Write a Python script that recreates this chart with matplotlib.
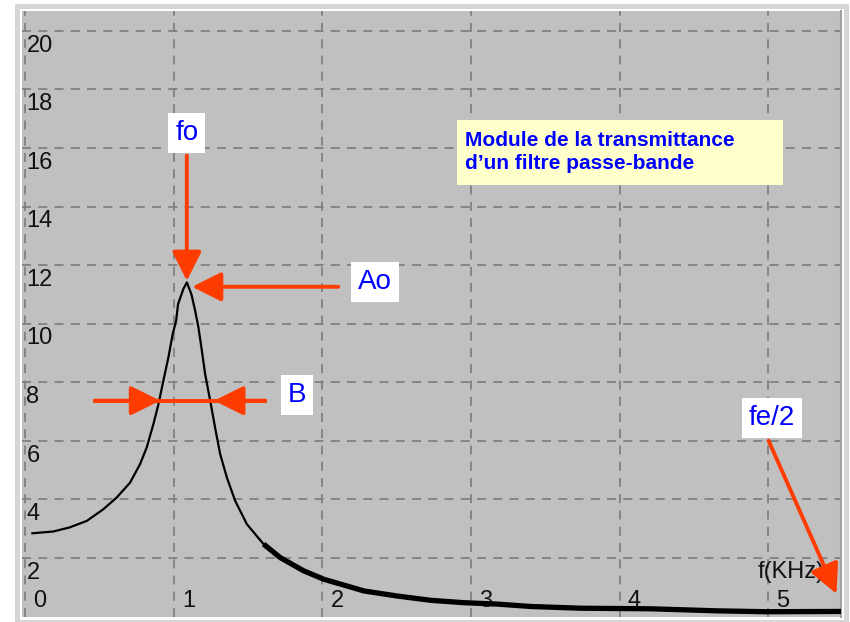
import numpy as np
import matplotlib.pyplot as plt
from matplotlib.patches import Rectangle

# Module de la transmittance d'un filtre passe-bande (fe = 11 kHz)
freq_khz = [0.05, 0.19, 0.30, 0.415, 0.527, 0.617, 0.707, 0.774, 0.819, 0.864,
            0.898, 0.931, 0.965, 0.994, 1.017, 1.03, 1.066, 1.089, 1.12, 1.145,
            1.167, 1.19, 1.212, 1.246, 1.279, 1.313, 1.358, 1.414, 1.493, 1.605,
            1.717, 1.874, 2.01, 2.166, 2.28, 2.50, 2.73, 2.95, 3.18, 3.40,
            3.74, 4.21, 4.66, 4.99, 5.49]
gain = [2.84, 2.90, 3.04, 3.26, 3.66, 4.06, 4.57, 5.20, 5.77, 6.57,
        7.25, 8.05, 8.85, 9.65, 10.1, 10.67, 11.19, 11.41, 11.0, 10.44,
        9.87, 9.08, 8.28, 7.37, 6.45, 5.55, 4.75, 3.95, 3.15, 2.47,
        2.01, 1.56, 1.27, 1.04, 0.87, 0.70, 0.55, 0.47, 0.42, 0.34,
        0.28, 0.26, 0.19, 0.16, 0.17]

x_ticks = [0, 1, 2, 3, 4, 5]
y_ticks = [2, 4, 6, 8, 10, 12, 14, 16, 18, 20]

# bandwidth markers (level and the two crossings)
b_level = 7.37
b_left, b_right = 0.909, 1.273
fe_half = 5.49

freq_khz = np.array(freq_khz)
gain = np.array(gain)
i_peak = np.argmax(gain)
fo, Ao = freq_khz[i_peak], gain[i_peak]

RED = '#ff3c00'
BLUE = '#0000ff'
plt.rcParams['font.family'] = ['Liberation Sans', 'DejaVu Sans']

W, H = 850, 622
fig = plt.figure(figsize=(W / 100, H / 100), dpi=100)
fig.patch.set_facecolor('white')


def px_box(x0, y0, x1, y1):
    # pixel box (top-left origin) -> figure fraction rect
    return [x0 / W, 1 - y1 / H, (x1 - x0) / W, (y1 - y0) / H]


def frame_rect(x0, y0, x1, y1, color):
    r = px_box(x0, y0, x1, y1)
    fig.add_artist(Rectangle(r[:2], r[2], r[3], transform=fig.transFigure,
                             facecolor=color, edgecolor='none', zorder=-5))


# window frame around the plot
frame_rect(15, 4, 849, 622, '#d6d6d6')
frame_rect(20, 9, 844, 620, 'white')

ax = fig.add_axes(px_box(22, 11, 841, 617))
ax.set_facecolor('#c0c0c0')
for s in ax.spines.values():
    s.set_visible(False)
ax.spines['right'].set_visible(True)
ax.spines['right'].set_color('#a0a0a0')
ax.spines['right'].set_linewidth(1.5)

ax.set_xlim(-0.02, 5.49)
ax.set_ylim(-0.02, 20.68)
ax.set_xticks([])
ax.set_yticks([])

# dashed grid
for xv in x_ticks:
    ax.axvline(xv, color='#808080', lw=1.3, ls=(0, (5, 4)), zorder=1)
for yv in y_ticks:
    ax.axhline(yv, color='#808080', lw=1.3, ls=(0, (5, 4)), zorder=1)

# tick labels drawn inside the plot area
for yv in y_ticks:
    ax.text(0.01, yv - 0.13, str(yv), ha='left', va='top', fontsize=17,
            color='#111111', zorder=2)
for xv in x_ticks:
    ax.text(xv + 0.055, 0.32, str(xv), ha='left', va='baseline', fontsize=17,
            color='#111111', zorder=2)
ax.text(4.93, 1.32, 'f(KHz)', ha='left', va='baseline', fontsize=17,
        color='#111111', zorder=2)

# response curve, the tail is drawn heavier
ax.plot(freq_khz, gain, color='black', lw=1.6, zorder=3)
tail = freq_khz >= 1.6
ax.plot(freq_khz[tail], gain[tail], color='black', lw=3.8,
        solid_capstyle='butt', zorder=3)

arrow = dict(arrowstyle='-|>,head_length=18,head_width=9', mutation_scale=1,
             color=RED, lw=2.8, shrinkA=0, shrinkB=0)
box = dict(boxstyle='square,pad=0.25', facecolor='white', edgecolor='none')

# fo
ax.annotate('', xy=(fo, Ao + 0.05), xytext=(fo, 15.74), arrowprops=arrow, zorder=4)
ax.text(fo, 16.5, 'fo', ha='center', va='center', fontsize=20, color=BLUE,
        bbox=box, zorder=5)

# Ao
ax.annotate('', xy=(fo + 0.035, Ao - 0.15), xytext=(2.108, Ao - 0.15),
            arrowprops=arrow, zorder=4)
ax.text(2.357, Ao, 'Ao', ha='center', va='center', fontsize=20, color=BLUE,
        bbox=box, zorder=5)

# B
ax.plot([0.471, 1.616], [b_level, b_level], color=RED, lw=2.8, zorder=4)
ax.annotate('', xy=(b_left, b_level), xytext=(0.471, b_level), arrowprops=arrow, zorder=4)
ax.annotate('', xy=(b_right, b_level), xytext=(1.616, b_level), arrowprops=arrow, zorder=4)
ax.text(1.832, 7.57, 'B', ha='center', va='center', fontsize=20, color=BLUE,
        bbox=box, zorder=5)

# fe/2
ax.annotate('', xy=(fe_half - 0.03, 0.77), xytext=(5.003, 6.0), arrowprops=arrow, zorder=4)
ax.text(5.024, 6.79, 'fe/2', ha='center', va='center', fontsize=20, color=BLUE,
        bbox=box, zorder=5)

# caption box
ax.add_patch(Rectangle((2.909, 14.72), 5.098 - 2.909, 16.97 - 14.72,
                       facecolor='#ffffcc', edgecolor='none', zorder=4))
ax.text(2.963, 15.86, 'Module de la transmittance\nd\u2019un filtre passe-bande',
        ha='left', va='center', fontsize=15, fontweight='bold', color=BLUE,
        linespacing=1.3, zorder=5)

fig.savefig('out.png', dpi=100)
